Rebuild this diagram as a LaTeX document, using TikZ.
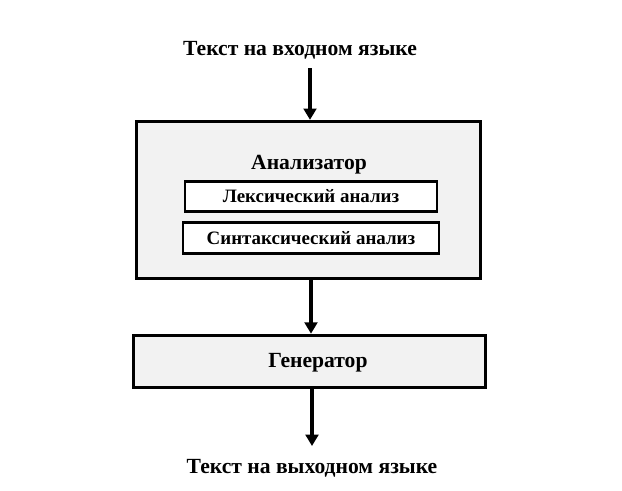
\documentclass[tikz,border=0pt]{standalone}
\usepackage{fontspec}
\setmainfont{Liberation Serif}
\usetikzlibrary{arrows.meta}
\definecolor{boxgray}{HTML}{F2F2F2}
\begin{document}
\begin{tikzpicture}[x=0.75pt, y=-0.75pt, line join=miter, >={Triangle[width=9.5pt,length=8.5pt]},
	blockbox/.style={draw, line width=2.2pt, fill=boxgray, inner sep=0pt},
	subbox/.style={draw, line width=2.2pt, fill=white, inner sep=0pt, font={\fontsize{14.2pt}{16pt}\bfseries}},
	flowarrow/.style={->, line width=3pt},
	caption/.style={font={\fontsize{16.2pt}{19pt}\bfseries}}]
	\useasboundingbox (0,0) rectangle (622,490);
	% input text
	\node[caption] (intext) at (300,50) {Текст на входном языке};
	% analyser
	\node[blockbox, minimum width=258pt, minimum height=118pt] (analyser) at (308.5,200) {};
	\node[caption] (antitle) at (309,165) {Анализатор};
	\node[subbox, minimum width=189pt, minimum height=22pt] (lexer) at (311,196.5) {Лексический анализ};
	\node[subbox, minimum width=192pt, minimum height=23pt] (parser) at (311,238) {Синтаксический анализ};
	% generator
	\node[blockbox, minimum width=264pt, minimum height=39.5pt] (generator) at (309.5,361.5) {};
	\node[caption] (gentitle) at (318,363) {Генератор};
	% output text
	\node[caption] (outtext) at (312,468) {Текст на выходном языке};
	% arrows
	\coordinate (a1) at (310,68);
	\coordinate (a2) at (311,280);
	\coordinate (a3) at (312,389);
	\coordinate (a4) at (312,446);
	\draw[flowarrow] (a1) -- (a1 |- analyser.north);
	\draw[flowarrow] (a2) -- (a2 |- generator.north);
	\draw[flowarrow] (a3) -- (a4);
\end{tikzpicture}
\end{document}
